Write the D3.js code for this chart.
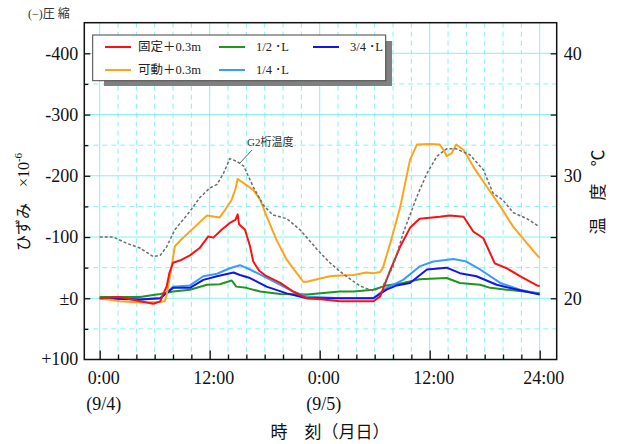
<!DOCTYPE html>
<html>
<head>
<meta charset="utf-8">
<style>
  body { margin: 0; background: #fff; }
  svg { font-family: "Liberation Serif", "Noto Sans CJK JP", serif; }
</style>
<script src="https://cdn.jsdelivr.net/npm/d3@7"></script>
</head>
<body>
<script>
// [hour, strain x10^-6] ; negative = compression
const fixedStrain = [[0,0],[2.2,-2],[4.4,5],[5.85,9],[6.6,5],[6.9,-6],[7.3,-19],[7.6,-41],[8.0,-58],[8.8,-62],[9.85,-70],[10.9,-82],[11.85,-101],[12.4,-99],[13.3,-112],[14.2,-123],[14.8,-128],[15.05,-137],[15.2,-121],[15.85,-112],[16.4,-85],[16.75,-60],[17.4,-45],[18.2,-36],[19.7,-25],[21.1,-11],[22.6,0],[24.4,2],[26.2,5],[28.4,5],[29.85,5],[30.6,-3],[31.7,-46],[32.8,-85],[33.85,-115],[34.9,-130],[37.1,-133],[38.2,-135],[39.7,-133],[40.75,-109],[41.85,-98],[43.1,-57],[44.4,-49],[45.85,-36],[47.7,-21],[48,-20]];
const movableStrain = [[0,0],[2.2,5],[4.4,7],[6.5,6],[7.1,5],[7.3,-5],[7.85,-52],[8.2,-85],[8.9,-96],[10.4,-117],[11.7,-135],[13.1,-132],[13.7,-145],[14.4,-161],[14.8,-178],[15.05,-195],[15.3,-192],[15.7,-188],[16.75,-177],[17.5,-161],[18.2,-134],[19.3,-95],[20.4,-63],[21.5,-41],[22.2,-27],[22.6,-27],[23.7,-31],[25.1,-36],[26.2,-37],[27.7,-38],[29.1,-42],[29.85,-41],[30.6,-43],[30.9,-50],[31.7,-90],[32.8,-150],[33.85,-226],[34.6,-251],[36.0,-252],[37.1,-251],[37.6,-240],[37.85,-232],[38.4,-237],[38.9,-251],[39.7,-242],[40.75,-215],[42.2,-183],[43.7,-150],[45.1,-117],[46.6,-90],[47.85,-68],[48,-66]];
const halfStrain = [[0,-2],[4.4,-2],[6.6,-7],[8.0,-11],[9.85,-14],[11.7,-22],[13.1,-23],[14.4,-29],[14.9,-19],[16.0,-17],[17.5,-11],[19.7,-7],[22.6,-6],[26.2,-11],[27.7,-11],[29.85,-14],[31.3,-21],[33.1,-25],[34.9,-31],[37.85,-33],[39.3,-25],[41.5,-22],[42.6,-17],[44.4,-14],[48,-8]];
const quarterStrain = [[0,0],[4.4,2],[6.6,0],[8.0,-19],[9.85,-21],[11.3,-36],[12.8,-40],[14.2,-49],[15.3,-54],[16.4,-47],[17.85,-36],[19.7,-22],[21.1,-11],[22.6,-3],[26.2,0],[29.85,0],[31.3,-17],[33.1,-30],[34.9,-52],[36.4,-60],[38.6,-64],[40.0,-60],[41.5,-47],[43.7,-25],[45.85,-14],[48,-7]];
const threeQuarterStrain = [[0,0],[4.4,2],[6.6,0],[8.0,-17],[9.85,-17],[11.3,-30],[12.8,-36],[14.6,-42],[15.3,-38],[16.4,-33],[18.2,-19],[20.4,-8],[22.6,0],[26.2,0],[29.85,0],[31.3,-14],[32.4,-21],[33.85,-25],[35.7,-47],[37.85,-50],[39.3,-41],[41.1,-36],[43.3,-22],[45.85,-13],[48,-6]];
// [hour, deg C]
const g2Temp = [[0,25.0],[1.5,25.0],[2.9,24.5],[4.4,24.1],[5.85,23.4],[6.6,23.5],[7.3,24.2],[8.2,25.6],[9.85,27.1],[10.9,28.2],[12.0,29.0],[12.8,29.3],[13.5,30.2],[14.2,31.4],[14.9,31.2],[15.7,30.8],[16.75,29.1],[17.85,27.6],[18.9,26.8],[20.4,26.5],[21.85,25.6],[23.7,24.0],[25.1,22.9],[26.2,22.2],[26.9,21.8],[28.4,21.0],[29.85,20.6],[30.9,21.0],[32.0,22.6],[33.1,25.3],[34.6,28.3],[35.7,30.2],[36.8,31.6],[37.85,32.2],[38.9,32.2],[40.4,31.7],[41.85,30.5],[42.9,28.6],[44.0,28.0],[45.1,27.0],[46.6,26.5],[47.85,25.9]];

const strainTicks = [-400, -300, -200, -100, 0, 100];
const tempTicks = [20, 25, 30, 35, 40];
const hourTicks = [0, 12, 24, 36, 48];
const hourLabels = ["0:00", "12:00", "0:00", "12:00", "24:00"];
const dateLabels = ["(9/4)", "", "(9/5)", "", ""];

const series = [
  { name: "固定＋0.3m", data: fixedStrain, color: "#ff1010" },
  { name: "可動＋0.3m", data: movableStrain, color: "#ffa31a" },
  { name: "1/2 ･L", data: halfStrain, color: "#1e961e" },
  { name: "1/4 ･L", data: quarterStrain, color: "#3a9bff" },
  { name: "3/4 ･L", data: threeQuarterStrain, color: "#1414f0" }
];

const [width, height] = [625, 444];
const frame = { left: 84.3, right: 556.7, top: 22.7, bottom: 359.5 };

const svg = d3.select("body").append("svg")
  .attr("width", width).attr("height", height)
  .attr("viewBox", [0, 0, width, height]);

const x = d3.scaleLinear().domain([0, 48]).range([99.7, 539.7]);
const y = d3.scaleLinear().domain([100, -450]).range([frame.bottom, frame.top]);
const yT = d3.scaleLinear().domain([15, 42.5]).range([frame.bottom, frame.top]);

// grid
const grid = svg.append("g").attr("stroke", "#84f2f4");
const minorHours = d3.range(2, 48, 2).filter(h => h % 12 !== 0);
grid.selectAll(".vmin").data(minorHours).join("line")
  .attr("x1", d => x(d)).attr("x2", d => x(d))
  .attr("y1", frame.top).attr("y2", frame.bottom)
  .attr("stroke-dasharray", "5,4");
grid.selectAll(".vmaj").data(hourTicks).join("line").attr("class", "vmaj")
  .attr("x1", d => x(d)).attr("x2", d => x(d))
  .attr("y1", frame.top).attr("y2", frame.bottom);
const minorStrain = d3.range(-350, 100, 100);
grid.selectAll(".hmin").data(minorStrain).join("line").attr("class", "hmin")
  .attr("x1", frame.left).attr("x2", frame.right)
  .attr("y1", d => y(d)).attr("y2", d => y(d))
  .attr("stroke-dasharray", "5,4");
grid.selectAll(".hmaj").data(strainTicks.filter(d => d < 100)).join("line").attr("class", "hmaj")
  .attr("x1", frame.left).attr("x2", frame.right)
  .attr("y1", d => y(d)).attr("y2", d => y(d));

// lines
const clip = svg.append("clipPath").attr("id", "clip").append("rect")
  .attr("x", frame.left).attr("y", frame.top)
  .attr("width", frame.right - frame.left).attr("height", frame.bottom - frame.top);
const plot = svg.append("g").attr("clip-path", "url(#clip)").attr("fill", "none");
const line = d3.line().x(d => x(d[0])).y(d => y(d[1]));
const drawOrder = [2, 3, 4, 1, 0];
plot.selectAll(".s").data(drawOrder.map(i => series[i])).join("path")
  .attr("d", d => line(d.data))
  .attr("stroke", d => d.color)
  .attr("stroke-width", 2)
  .attr("stroke-linejoin", "round");
const tempLine = d3.line().x(d => x(d[0])).y(d => yT(d[1]));
plot.append("path").attr("d", tempLine(g2Temp))
  .attr("stroke", "#6e6e6e").attr("stroke-width", 1.5)
  .attr("stroke-dasharray", "3,2");

// annotation
svg.append("line").attr("x1", x(15.3)).attr("y1", 163).attr("x2", 252).attr("y2", 150)
  .attr("stroke", "#333").attr("stroke-width", 0.8);
svg.append("text").attr("x", 247).attr("y", 146).attr("font-size", 11).attr("fill", "#333")
  .text("G2桁温度");

// frame
svg.append("rect")
  .attr("x", frame.left).attr("y", frame.top)
  .attr("width", frame.right - frame.left).attr("height", frame.bottom - frame.top)
  .attr("fill", "none").attr("stroke", "#111").attr("stroke-width", 1.5);

// axes
const fmtStrain = d => d === 0 ? "±0" : d > 0 ? "+" + d : "-" + Math.abs(d);
svg.append("g").attr("transform", `translate(${frame.left},0)`)
  .call(d3.axisLeft(y).tickValues(strainTicks.filter(d => d < 100)).tickSize(-6).tickPadding(6).tickFormat(fmtStrain))
  .call(g => g.select(".domain").remove());
svg.append("g").attr("transform", `translate(${frame.left},0)`)
  .call(d3.axisLeft(y).tickValues(minorStrain).tickSize(-4).tickFormat(""))
  .call(g => g.select(".domain").remove());
svg.append("text").attr("x", frame.left - 6).attr("y", y(100)).attr("dy", "0.32em")
  .attr("text-anchor", "end").attr("font-size", 18).attr("fill", "#111").text(fmtStrain(100));

svg.append("g").attr("transform", `translate(${frame.right},0)`)
  .call(d3.axisRight(yT).tickValues(tempTicks).tickSize(-6).tickPadding(7).tickFormat(d => d % 10 === 0 ? d : ""))
  .call(g => g.select(".domain").remove());

svg.append("g").attr("transform", `translate(0,${frame.bottom})`)
  .call(d3.axisBottom(x).tickValues(hourTicks).tickSize(-9).tickFormat(""))
  .call(g => g.select(".domain").remove());
svg.append("g").attr("transform", `translate(0,${frame.bottom})`)
  .call(d3.axisBottom(x).tickValues(minorHours).tickSize(-5).tickFormat(""))
  .call(g => g.select(".domain").remove());

svg.selectAll(".tick line").attr("stroke", "#111").attr("stroke-width", 1.3);
svg.selectAll(".tick text").attr("font-size", 18).attr("font-family", "Liberation Serif").attr("fill", "#111");

const xl = svg.append("g").attr("font-size", 18).attr("text-anchor", "middle").attr("fill", "#111");
xl.selectAll(".h").data(hourTicks).join("text")
  .attr("x", d => x(d) + 4).attr("y", 384).text((d, i) => hourLabels[i]);
xl.selectAll(".d").data(hourTicks).join("text")
  .attr("x", d => x(d) + 4).attr("y", 410).text((d, i) => dateLabels[i]);

svg.append("text").attr("x", 330).attr("y", 438).attr("text-anchor", "middle")
  .attr("font-size", 17).attr("fill", "#111").text("時　刻（月日）");

// axis titles
const lt = svg.append("text").attr("transform", "translate(29,202) rotate(-90)")
  .attr("text-anchor", "middle").attr("font-size", 16).attr("fill", "#111");
lt.append("tspan").text("ひずみ　×10");
lt.append("tspan").attr("dy", -7).attr("font-size", 11).text("-6");

svg.append("text").attr("transform", "translate(604,192) rotate(-90)")
  .attr("text-anchor", "middle").attr("font-size", 17).attr("fill", "#111")
  .text("温　度　℃");

svg.append("text").attr("x", 28).attr("y", 18).attr("font-size", 12).attr("fill", "#333")
  .text("(−)圧 縮");

// legend
const lg = svg.append("g");
lg.append("rect").attr("x", 104).attr("y", 41).attr("width", 288).attr("height", 45).attr("fill", "#808080");
lg.append("rect").attr("x", 92.7).attr("y", 35).attr("width", 293).attr("height", 45.7)
  .attr("fill", "#fff").attr("stroke", "#444").attr("stroke-width", 1);
const legendPos = [[105, 47], [105, 70], [219, 47], [219, 70], [313, 47]];
const items = lg.selectAll(".item").data(series).join("g")
  .attr("transform", (d, i) => `translate(${legendPos[i][0]},${legendPos[i][1]})`);
items.append("line").attr("x1", 0).attr("x2", 26).attr("stroke", d => d.color).attr("stroke-width", 2);
items.append("text").attr("x", (d, i) => i < 2 ? 33 : 37).attr("dy", "0.35em")
  .attr("font-size", 12.5).attr("fill", "#222").text(d => d.name);
</script>
</body>
</html>
